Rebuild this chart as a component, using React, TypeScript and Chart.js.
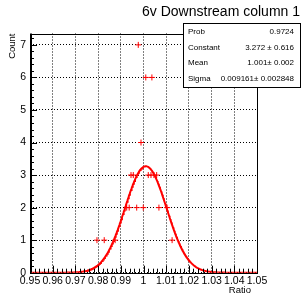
import React, { useEffect, useRef } from "react";
import { Chart, registerables } from "chart.js";

Chart.register(...registerables);

const TITLE = "6v Downstream column 1";
const X_TITLE = "Ratio";
const Y_TITLE = "Count";

const BIN_X = [0.9795, 0.9827, 0.9875, 0.9926, 0.9937, 0.9945, 0.9955, 0.997, 0.9977, 0.9989, 0.9999, 1.001, 1.0021, 1.0033, 1.0037, 1.0046, 1.0058, 1.0068, 1.0104, 1.0126];
const BIN_COUNT = [1, 1, 1, 2, 2, 3, 3, 2, 7, 4, 2, 6, 3, 3, 6, 3, 3, 2, 2, 1];

const X_TICKS = [0.95, 0.96, 0.97, 0.98, 0.99, 1.0, 1.01, 1.02, 1.03, 1.04, 1.05];
const Y_TICKS = [0, 1, 2, 3, 4, 5, 6, 7];

const FIT_CONSTANT = 3.272;
const FIT_MEAN = 1.001;
const FIT_SIGMA = 0.009161;

const STATS_LABELS = ["Prob", "Constant", "Mean", "Sigma"];
const STATS_VALUES = ["0.9724", "3.272 \u00b1 0.616", "1.001\u00b1 0.002", "0.009161\u00b1 0.002848"];

const FONT = "'Liberation Sans', Arial, sans-serif";

function fitCurve() {
  const pts: { x: number; y: number }[] = [];
  const n = 400;
  for (let i = 0; i <= n; i++) {
    const x = 0.95 + (0.1 * i) / n;
    const z = (x - FIT_MEAN) / FIT_SIGMA;
    pts.push({ x, y: FIT_CONSTANT * Math.exp(-0.5 * z * z) });
  }
  return pts;
}

const decorPlugin = {
  id: "rootDecor",
  afterDraw(chart: any) {
    const { ctx, chartArea } = chart;
    const { left, right, top, bottom } = chartArea;
    const xs = chart.scales.x;
    const ys = chart.scales.y;
    ctx.save();
    ctx.strokeStyle = "#000";
    ctx.lineWidth = 1;
    // minor & major ticks
    ctx.beginPath();
    for (let v = 0; v <= 7.35 + 1e-9; v += 0.2) {
      const y = Math.round(ys.getPixelForValue(v)) + 0.5;
      const major = Math.abs(v - Math.round(v)) < 1e-6;
      ctx.moveTo(left, y);
      ctx.lineTo(left + (major ? 7 : 4), y);
    }
    for (let i = 0; i <= 50; i++) {
      const v = 0.95 + i * 0.002;
      const x = Math.round(xs.getPixelForValue(v)) + 0.5;
      const major = i % 5 === 0;
      ctx.moveTo(x, bottom);
      ctx.lineTo(x, bottom - (major ? 7 : 4));
    }
    ctx.stroke();
    // frame
    ctx.strokeRect(Math.round(left) + 0.5, Math.round(top) + 0.5, Math.round(right - left), Math.round(bottom - top));
    ctx.beginPath();
    ctx.moveTo(Math.round(left) + 1.5, top);
    ctx.lineTo(Math.round(left) + 1.5, bottom);
    ctx.stroke();
    // title
    ctx.fillStyle = "#000";
    ctx.font = `14px ${FONT}`;
    ctx.textAlign = "right";
    ctx.textBaseline = "middle";
    ctx.fillText(TITLE, 300, 12);
    // axis titles
    ctx.font = `9.5px ${FONT}`;
    ctx.textAlign = "right";
    ctx.fillText(X_TITLE, right - 6, 290);
    ctx.save();
    ctx.translate(12, top);
    ctx.rotate(-Math.PI / 2);
    ctx.textAlign = "right";
    ctx.fillText(Y_TITLE, 0, 0);
    ctx.restore();
    // stats box
    const bx = 183, by = 23, bw = 117, bh = 64;
    ctx.fillStyle = "#fff";
    ctx.fillRect(bx, by, bw, bh);
    ctx.strokeStyle = "#000";
    ctx.strokeRect(bx + 0.5, by + 0.5, bw, bh);
    ctx.fillStyle = "#000";
    ctx.font = `8px ${FONT}`;
    const rows = [31.7, 47.3, 62.7, 79];
    STATS_LABELS.forEach((lab, i) => {
      ctx.textAlign = "left";
      ctx.fillText(lab, 188, rows[i]);
      ctx.textAlign = "right";
      ctx.fillText(STATS_VALUES[i], 294, rows[i]);
    });
    ctx.restore();
  },
};

export default function App() {
  const ref = useRef<HTMLCanvasElement>(null);
  useEffect(() => {
    if (!ref.current) return;
    const chart = new Chart(ref.current, {
      type: "scatter",
      data: {
        datasets: [
          {
            label: "hist",
            data: BIN_X.map((x, i) => ({ x, y: BIN_COUNT[i] })),
            pointStyle: "cross",
            pointRadius: 3,
            pointBorderColor: "#ff0000",
            pointBorderWidth: 1,
            borderColor: "#ff0000",
            showLine: false,
          },
          {
            label: "fit",
            data: fitCurve(),
            showLine: true,
            borderColor: "#ff0000",
            borderWidth: 2,
            pointRadius: 0,
            tension: 0,
          },
        ],
      },
      options: {
        responsive: false,
        animation: false,
        events: [],
        layout: { padding: { top: 33.5, right: 46, left: 0, bottom: 0 } },
        plugins: { legend: { display: false }, title: { display: false }, tooltip: { enabled: false } },
        scales: {
          x: {
            type: "linear",
            min: 0.95,
            max: 1.05,
            afterBuildTicks: (s: any) => {
              s.ticks = X_TICKS.map((v) => ({ value: v }));
            },
            afterFit: (s: any) => {
              s.height = 22.3;
            },
            ticks: {
              color: "#000",
              font: { family: FONT, size: 10.5 },
              padding: 2,
              maxRotation: 0,
              autoSkip: false,
              callback: (v: any) => String(Number(Number(v).toFixed(2))),
            },
            grid: { color: "#000", lineWidth: 1, drawTicks: false, tickLength: 0 },
            border: { display: false, dash: [1, 2] },
          },
          y: {
            type: "linear",
            min: 0,
            max: 7.35,
            afterBuildTicks: (s: any) => {
              s.ticks = Y_TICKS.map((v) => ({ value: v }));
            },
            afterFit: (s: any) => {
              s.width = 30;
            },
            ticks: {
              color: "#000",
              font: { family: FONT, size: 10.5 },
              padding: 4,
              autoSkip: false,
              callback: (v: any) => String(v),
            },
            grid: { color: "#000", lineWidth: 1, drawTicks: false, tickLength: 0 },
            border: { display: false, dash: [1, 2] },
          },
        },
      },
      plugins: [decorPlugin],
    });
    return () => chart.destroy();
  }, []);
  return (
    <div style={{ position: "fixed", left: 0, top: 0, width: 303, height: 295, background: "#fff" }}>
      <canvas ref={ref} width={303} height={295} style={{ width: 303, height: 295, display: "block" }} />
    </div>
  );
}
